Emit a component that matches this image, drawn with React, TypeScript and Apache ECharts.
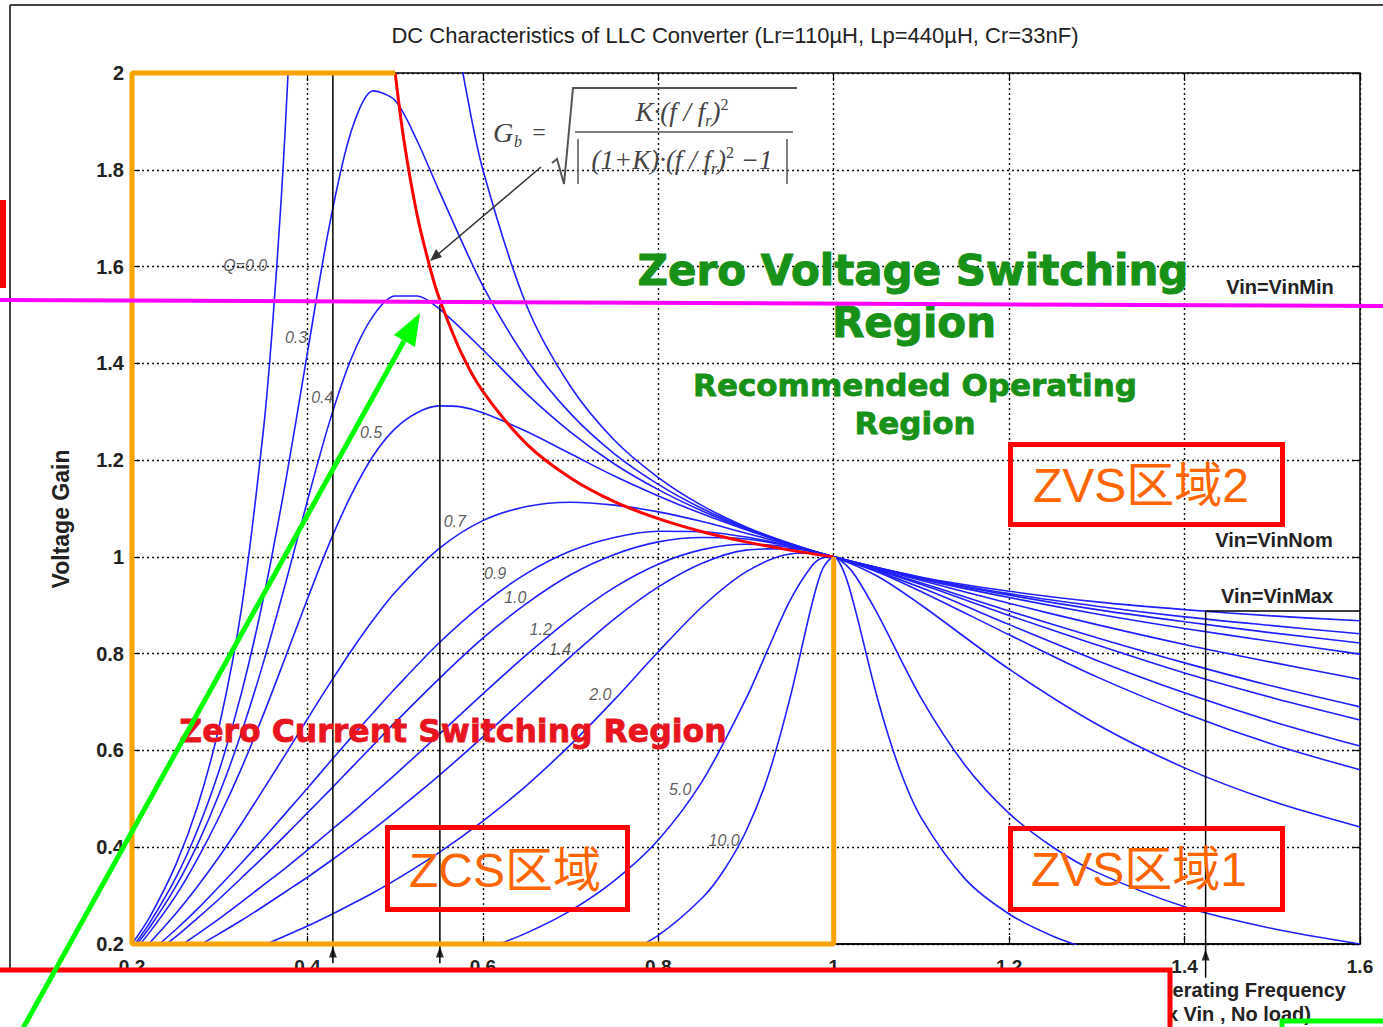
import { useEffect, useRef } from 'react';
import * as echarts from 'echarts';

type Pt = [number, number];

// ---- axes ----
const xTickValues = [0.2, 0.4, 0.6, 0.8, 1.0, 1.2, 1.4, 1.6];
const yTickValues = [0.2, 0.4, 0.6, 0.8, 1.0, 1.2, 1.4, 1.6, 1.8, 2.0];

// ---- gain curves (f / fr, voltage gain) ----
const q00Left: Pt[] = [[0.2,0.2],[0.22,0.255],[0.25,0.364],[0.275,0.486],[0.3,0.655],[0.325,0.895],[0.35,1.265],[0.36,1.473],[0.37,1.736],[0.375,1.895],[0.38,2.078]];
const q00Right: Pt[] = [[0.57,2.081],[0.58,1.973],[0.6,1.8],[0.65,1.519],[0.7,1.352],[0.75,1.241],[0.8,1.164],[0.85,1.106],[0.9,1.062],[0.95,1.028],[1,1],[1.1,0.958],[1.2,0.929],[1.3,0.907],[1.4,0.891],[1.5,0.878],[1.6,0.868]];
const q03: Pt[] = [[0.2,0.192],[0.22,0.243],[0.25,0.337],[0.275,0.437],[0.3,0.562],[0.325,0.72],[0.35,0.916],[0.375,1.154],[0.4,1.422],[0.425,1.684],[0.45,1.88],[0.475,1.963],[0.5,1.943],[0.525,1.86],[0.55,1.757],[0.6,1.56],[0.65,1.408],[0.7,1.296],[0.75,1.213],[0.8,1.15],[0.85,1.1],[0.9,1.06],[0.95,1.027],[1,1],[1.1,0.957],[1.2,0.924],[1.3,0.898],[1.4,0.876],[1.5,0.858],[1.6,0.841]];
const q04: Pt[] = [[0.2,0.187],[0.22,0.234],[0.25,0.319],[0.275,0.407],[0.3,0.513],[0.325,0.638],[0.35,0.783],[0.375,0.945],[0.4,1.116],[0.425,1.278],[0.45,1.41],[0.475,1.498],[0.5,1.539],[0.525,1.539],[0.55,1.513],[0.6,1.428],[0.65,1.337],[0.7,1.258],[0.75,1.192],[0.8,1.139],[0.85,1.095],[0.9,1.058],[0.95,1.027],[1,1],[1.1,0.956],[1.2,0.921],[1.3,0.891],[1.4,0.866],[1.5,0.843],[1.6,0.822]];
const q05: Pt[] = [[0.2,0.18],[0.22,0.224],[0.25,0.3],[0.275,0.377],[0.3,0.465],[0.325,0.564],[0.35,0.675],[0.375,0.793],[0.4,0.913],[0.425,1.028],[0.45,1.128],[0.475,1.209],[0.5,1.265],[0.525,1.298],[0.55,1.312],[0.575,1.31],[0.6,1.298],[0.65,1.259],[0.7,1.213],[0.75,1.167],[0.8,1.126],[0.85,1.089],[0.9,1.056],[0.95,1.026],[1,1],[1.1,0.954],[1.2,0.916],[1.3,0.882],[1.4,0.852],[1.5,0.825],[1.6,0.799]];
const q07: Pt[] = [[0.2,0.166],[0.22,0.202],[0.25,0.263],[0.275,0.32],[0.3,0.382],[0.325,0.449],[0.35,0.52],[0.375,0.592],[0.4,0.665],[0.425,0.737],[0.45,0.806],[0.475,0.87],[0.5,0.927],[0.55,1.017],[0.6,1.075],[0.65,1.104],[0.7,1.113],[0.75,1.107],[0.8,1.093],[0.85,1.073],[0.9,1.049],[0.95,1.025],[1,1],[1.1,0.951],[1.2,0.904],[1.3,0.86],[1.4,0.819],[1.5,0.782],[1.6,0.747]];
const q09: Pt[] = [[0.2,0.151],[0.25,0.23],[0.275,0.273],[0.3,0.32],[0.325,0.368],[0.35,0.418],[0.375,0.47],[0.4,0.522],[0.425,0.575],[0.45,0.627],[0.475,0.678],[0.5,0.728],[0.55,0.822],[0.6,0.902],[0.65,0.966],[0.7,1.012],[0.75,1.04],[0.8,1.053],[0.85,1.052],[0.9,1.041],[0.95,1.023],[1,1],[1.1,0.946],[1.2,0.888],[1.3,0.833],[1.4,0.781],[1.5,0.733],[1.6,0.69]];
const q10: Pt[] = [[0.2,0.144],[0.25,0.215],[0.275,0.254],[0.3,0.294],[0.325,0.337],[0.35,0.38],[0.375,0.425],[0.4,0.471],[0.425,0.517],[0.45,0.564],[0.475,0.611],[0.5,0.658],[0.55,0.748],[0.6,0.832],[0.65,0.904],[0.7,0.963],[0.75,1.005],[0.8,1.031],[0.85,1.04],[0.9,1.037],[0.95,1.022],[1,1],[1.1,0.943],[1.2,0.879],[1.3,0.818],[1.4,0.76],[1.5,0.709],[1.6,0.663]];
const q12: Pt[] = [[0.2,0.131],[0.25,0.19],[0.275,0.221],[0.3,0.253],[0.325,0.287],[0.35,0.322],[0.375,0.357],[0.4,0.394],[0.425,0.432],[0.45,0.47],[0.475,0.51],[0.5,0.55],[0.55,0.633],[0.6,0.717],[0.65,0.798],[0.7,0.873],[0.75,0.937],[0.8,0.985],[0.85,1.015],[0.9,1.026],[0.95,1.02],[1,1],[1.1,0.936],[1.2,0.86],[1.3,0.786],[1.4,0.719],[1.5,0.66],[1.6,0.609]];
const q14: Pt[] = [[0.2,0.119],[0.25,0.169],[0.3,0.222],[0.325,0.249],[0.35,0.278],[0.375,0.308],[0.4,0.338],[0.425,0.37],[0.45,0.403],[0.475,0.437],[0.5,0.473],[0.55,0.548],[0.6,0.628],[0.65,0.711],[0.7,0.794],[0.75,0.872],[0.8,0.938],[0.85,0.987],[0.9,1.014],[0.95,1.017],[1,1],[1.05,0.969],[1.1,0.928],[1.2,0.839],[1.3,0.752],[1.4,0.677],[1.5,0.613],[1.6,0.56]];
const q20: Pt[] = [[0.3,0.16],[0.35,0.197],[0.375,0.217],[0.4,0.237],[0.425,0.259],[0.45,0.282],[0.475,0.306],[0.5,0.332],[0.55,0.389],[0.6,0.454],[0.65,0.528],[0.7,0.612],[0.75,0.705],[0.8,0.804],[0.85,0.897],[0.9,0.969],[0.95,1.006],[0.975,1.008],[1,1],[1.05,0.96],[1.1,0.9],[1.2,0.768],[1.3,0.654],[1.4,0.564],[1.5,0.495],[1.6,0.442]];
const q50: Pt[] = [[0.6,0.187],[0.65,0.223],[0.7,0.269],[0.75,0.331],[0.8,0.415],[0.85,0.536],[0.9,0.707],[0.925,0.809],[0.95,0.909],[0.975,0.981],[0.9875,0.998],[1,1],[1.0125,0.986],[1.025,0.96],[1.05,0.882],[1.1,0.707],[1.15,0.569],[1.2,0.47],[1.25,0.4],[1.3,0.348],[1.4,0.277],[1.5,0.232],[1.6,0.2]];
const q100: Pt[] = [[0.75,0.17],[0.8,0.218],[0.85,0.295],[0.875,0.353],[0.9,0.433],[0.925,0.546],[0.95,0.707],[0.975,0.901],[0.9875,0.976],[1,1],[1.0125,0.965],[1.025,0.888],[1.05,0.707],[1.075,0.562],[1.1,0.46],[1.15,0.334],[1.2,0.262],[1.25,0.216],[1.3,0.184]];

const gainCurves: Pt[][] = [q00Left, q00Right, q03, q04, q05, q07, q09, q10, q12, q14, q20, q50, q100];

// peak-gain boundary (red)
const boundary: Pt[] = [[0.5,2],[0.51,1.861],[0.525,1.707],[0.54,1.596],[0.55,1.536],[0.575,1.423],[0.6,1.342],[0.65,1.233],[0.7,1.163],[0.75,1.114],[0.8,1.079],[0.85,1.052],[0.9,1.031],[0.95,1.014],[1,1]];

// ZCS region outline (orange)
const zcsOutline: Pt[] = [[0.5,2],[0.2,2],[0.2,0.2],[1,0.2],[1,1]];

// Q labels
const qLabelText = ['Q=0.0','0.3','0.4','0.5','0.7','0.9','1.0','1.2','1.4','2.0','5.0','10.0'];
const qLabelPos: Pt[] = [[0.329,1.603],[0.387,1.454],[0.417,1.33],[0.4725,1.258],[0.568,1.074],[0.614,0.965],[0.637,0.917],[0.666,0.849],[0.688,0.808],[0.734,0.715],[0.825,0.52],[0.875,0.413]];

// vertical operating-point markers
const markerLine1: Pt[] = [[0.429,2],[0.429,0.16]];
const markerLine2: Pt[] = [[0.551,1.521],[0.551,0.16]];
const vinMaxBox: Pt[] = [[1.6,0.888],[1.424,0.888],[1.424,0.13]];
const markerArrows: Pt[] = [[0.429,0.1835],[0.551,0.1835],[1.424,0.1773]];

const BLUE = '#1f1fff';
const SANS = 'Liberation Sans, Arial, sans-serif';
const SERIF = 'Liberation Serif, Times New Roman, serif';
const HEAVY = 'DejaVu Sans';

function T(x: number, y: number, text: string, style: any, extra: any = {}) {
  return {
    type: 'text', x, y, z: 50, ...extra,
    style: { text, align: 'center', verticalAlign: 'middle', textAlign: 'center', textVerticalAlign: 'middle', ...style },
  };
}

const richMath = {
  m: { fontSize: 27, fontStyle: 'italic', fontFamily: SERIF, fill: '#444', lineHeight: 32 },
  s: { fontSize: 16, fontStyle: 'italic', fontFamily: SERIF, fill: '#444', verticalAlign: 'bottom', lineHeight: 32 },
  p: { fontSize: 16, fontFamily: SERIF, fill: '#444', verticalAlign: 'top', lineHeight: 32 },
};

function buildOption(): any {
  const xMin = xTickValues[0], xMax = xTickValues[xTickValues.length - 1];
  const yMin = yTickValues[0], yMax = yTickValues[yTickValues.length - 1];
  const splitStyle = { color: '#111', width: 1.4, type: [2, 3] };
  const series: any[] = gainCurves.map((d) => ({
    type: 'line', data: d, smooth: 0.3, symbol: 'none', silent: true, z: 3,
    lineStyle: { color: BLUE, width: 1.6 },
  }));
  series.push({ type: 'line', data: boundary, smooth: 0.3, symbol: 'none', silent: true, z: 5, lineStyle: { color: '#ff0000', width: 3 } });
  series.push({ type: 'line', data: zcsOutline, symbol: 'none', silent: true, clip: false, z: 6, lineStyle: { color: '#f7a300', width: 5 } });
  [markerLine1, markerLine2, vinMaxBox].forEach((d) => series.push({
    type: 'line', data: d, symbol: 'none', silent: true, clip: false, z: 4, lineStyle: { color: '#000', width: 1.5 },
  }));
  series.push({ type: 'scatter', data: markerArrows, symbol: 'triangle', symbolSize: [8, 11], clip: false, silent: true, z: 4, itemStyle: { color: '#000' } });
  series.push({
    type: 'scatter', data: qLabelPos, symbolSize: 0, silent: true, z: 7,
    label: {
      show: true, position: 'inside', formatter: (p: any) => qLabelText[p.dataIndex],
      fontSize: 16, fontStyle: 'italic', fontFamily: SANS, color: '#333',
    },
  });

  const boldSans = (size: number) => ({ fontSize: size, fontWeight: 'bold', fontFamily: SANS, fill: '#222' });
  const g: any[] = [
    // figure frame
    { type: 'line', z: 40, shape: { x1: 10, y1: 5, x2: 10, y2: 1027 }, style: { stroke: '#444', lineWidth: 2 } },
    { type: 'line', z: 40, shape: { x1: 10, y1: 5, x2: 1383, y2: 5 }, style: { stroke: '#444', lineWidth: 2 } },
    T(735, 35, 'DC Characteristics of LLC Converter (Lr=110µH, Lp=440µH, Cr=33nF)', { fontSize: 22, fontFamily: SANS, fill: '#222' }),
    T(61, 519, 'Voltage Gain', boldSans(23), { rotation: Math.PI / 2 }),
    T(1346, 990, 'Operating Frequency', { ...boldSans(20), align: 'right', textAlign: 'right' }),
    T(1311, 1014, '(Max Vin , No load)', { ...boldSans(20), align: 'right', textAlign: 'right' }),
    // formula
    T(503, 132, 'G', { fontSize: 28, fontStyle: 'italic', fontFamily: SERIF, fill: '#444' }),
    T(518, 141, 'b', { fontSize: 16, fontStyle: 'italic', fontFamily: SERIF, fill: '#444' }),
    T(539, 132, '=', { fontSize: 24, fontFamily: SERIF, fill: '#444' }),
    { type: 'polyline', z: 50, shape: { points: [[552, 163], [557, 159], [564, 184], [573, 88], [797, 88]] }, style: { stroke: '#555', lineWidth: 2, fill: 'none' } },
    { type: 'line', z: 50, shape: { x1: 575, y1: 132, x2: 793, y2: 132 }, style: { stroke: '#555', lineWidth: 1.5 } },
    { type: 'line', z: 50, shape: { x1: 578, y1: 139, x2: 578, y2: 184 }, style: { stroke: '#555', lineWidth: 1.5 } },
    { type: 'line', z: 50, shape: { x1: 787, y1: 139, x2: 787, y2: 184 }, style: { stroke: '#555', lineWidth: 1.5 } },
    {
      type: 'text', z: 50, x: 682, y: 112,
      style: { text: '{m|K·(f / f}{s|r}{m|)}{p|2}', align: 'center', verticalAlign: 'middle', textAlign: 'center', textVerticalAlign: 'middle', rich: richMath },
    },
    {
      type: 'text', z: 50, x: 682, y: 160,
      style: { text: '{m|(1+K)·(f / f}{s|r}{m|)}{p|2}{m| −1}', align: 'center', verticalAlign: 'middle', textAlign: 'center', textVerticalAlign: 'middle', rich: richMath },
    },
    { type: 'line', z: 50, shape: { x1: 541, y1: 167, x2: 436, y2: 256 }, style: { stroke: '#333', lineWidth: 1.5 } },
    { type: 'polygon', z: 50, shape: { points: [[430, 261], [442, 257], [436, 249]] }, style: { fill: '#333' } },
    // region texts
    T(913, 270, 'Zero Voltage Switching', { fontSize: 42, fontWeight: 'bold', fontFamily: HEAVY, fill: '#179117', stroke: '#179117', lineWidth: 1 }),
    T(914, 322, 'Region', { fontSize: 42, fontWeight: 'bold', fontFamily: HEAVY, fill: '#179117', stroke: '#179117', lineWidth: 1 }),
    T(915, 385, 'Recommended Operating', { fontSize: 31, fontWeight: 'bold', fontFamily: HEAVY, fill: '#179117', stroke: '#179117', lineWidth: 0.8 }),
    T(915, 423, 'Region', { fontSize: 31, fontWeight: 'bold', fontFamily: HEAVY, fill: '#179117', stroke: '#179117', lineWidth: 0.8 }),
    T(453, 731, 'Zero Current Switching Region', { fontSize: 31.5, fontWeight: 'bold', fontFamily: HEAVY, fill: '#e8141e', stroke: '#e8141e', lineWidth: 0.8 }),
    T(1280, 287, 'Vin=VinMin', boldSans(20)),
    T(1274, 540, 'Vin=VinNom', boldSans(20)),
    T(1277, 596, 'Vin=VinMax', boldSans(20)),
    // overlays
    { type: 'rect', z: 100, shape: { x: -5, y: 970, width: 1175, height: 70 }, style: { fill: '#fff', stroke: '#ff0000', lineWidth: 5 } },
    { type: 'rect', z: 100, shape: { x: 0, y: 200, width: 6, height: 88 }, style: { fill: '#ff0000' } },
    { type: 'rect', z: 100, shape: { x: 1010.5, y: 444.5, width: 272, height: 80 }, style: { fill: 'none', stroke: '#ff0000', lineWidth: 5 } },
    { type: 'rect', z: 100, shape: { x: 387.5, y: 827.5, width: 240, height: 82 }, style: { fill: 'none', stroke: '#ff0000', lineWidth: 5 } },
    { type: 'rect', z: 100, shape: { x: 1010.5, y: 828.5, width: 272, height: 81 }, style: { fill: 'none', stroke: '#ff0000', lineWidth: 5 } },
    T(1141, 485, 'ZVS区域2', { fontSize: 48, fontFamily: 'Liberation Sans, Noto Sans CJK SC', fill: '#ff6600' }, { z: 101 }),
    T(505, 870, 'ZCS区域', { fontSize: 48, fontFamily: 'Liberation Sans, Noto Sans CJK SC', fill: '#ff6600' }, { z: 101 }),
    T(1139, 869, 'ZVS区域1', { fontSize: 48, fontFamily: 'Liberation Sans, Noto Sans CJK SC', fill: '#ff6600' }, { z: 101 }),
    { type: 'line', z: 110, shape: { x1: 0, y1: 300, x2: 1383, y2: 306 }, style: { stroke: '#ff00ff', lineWidth: 4 } },
    { type: 'line', z: 110, shape: { x1: 22, y1: 1030, x2: 404, y2: 341 }, style: { stroke: '#00ff00', lineWidth: 5 } },
    { type: 'polygon', z: 110, shape: { points: [[420, 313], [415, 347], [394, 335]] }, style: { fill: '#00ff00' } },
    { type: 'polyline', z: 110, shape: { points: [[1282, 1030], [1282, 1021], [1383, 1021]] }, style: { stroke: '#00ff00', lineWidth: 5, fill: 'none' } },
  ];

  const tick = { show: true, inside: true, length: 8, lineStyle: { color: '#000', width: 1.2 } };
  return {
    animation: false,
    backgroundColor: '#fff',
    grid: { left: 132, right: 23, top: 73, bottom: 83, show: true, borderColor: '#000', borderWidth: 1.5, backgroundColor: 'transparent' },
    xAxis: [
      {
        type: 'value', min: xMin, max: xMax, interval: 0.2, position: 'bottom',
        axisLine: { show: true, lineStyle: { color: '#000', width: 1.5 } },
        axisTick: tick,
        axisLabel: { margin: 13, fontSize: 19, fontWeight: 'bold', fontFamily: SANS, color: '#222' },
        splitLine: { show: true, lineStyle: splitStyle },
      },
      {
        type: 'value', min: xMin, max: xMax, interval: 0.2, position: 'top',
        axisLine: { show: false }, axisLabel: { show: false }, splitLine: { show: false }, axisTick: tick,
      },
    ],
    yAxis: [
      {
        type: 'value', min: yMin, max: yMax, interval: 0.2, position: 'left',
        axisLine: { show: true, lineStyle: { color: '#000', width: 1.5 } },
        axisTick: tick,
        axisLabel: { margin: 8, fontSize: 20, fontWeight: 'bold', fontFamily: SANS, color: '#222' },
        splitLine: { show: true, lineStyle: splitStyle },
      },
      {
        type: 'value', min: yMin, max: yMax, interval: 0.2, position: 'right',
        axisLine: { show: false }, axisLabel: { show: false }, splitLine: { show: false }, axisTick: tick,
      },
    ],
    series,
    graphic: g,
  };
}

export default function App() {
  const ref = useRef<HTMLDivElement>(null);
  useEffect(() => {
    const el = ref.current;
    if (!el) return;
    const chart = echarts.init(el, undefined, { renderer: 'svg' });
    chart.setOption(buildOption());
    return () => chart.dispose();
  }, []);
  return (
    <div
      ref={ref}
      style={{ position: 'absolute', left: 0, top: 0, width: 1383, height: 1027, background: '#fff' }}
    />
  );
}
